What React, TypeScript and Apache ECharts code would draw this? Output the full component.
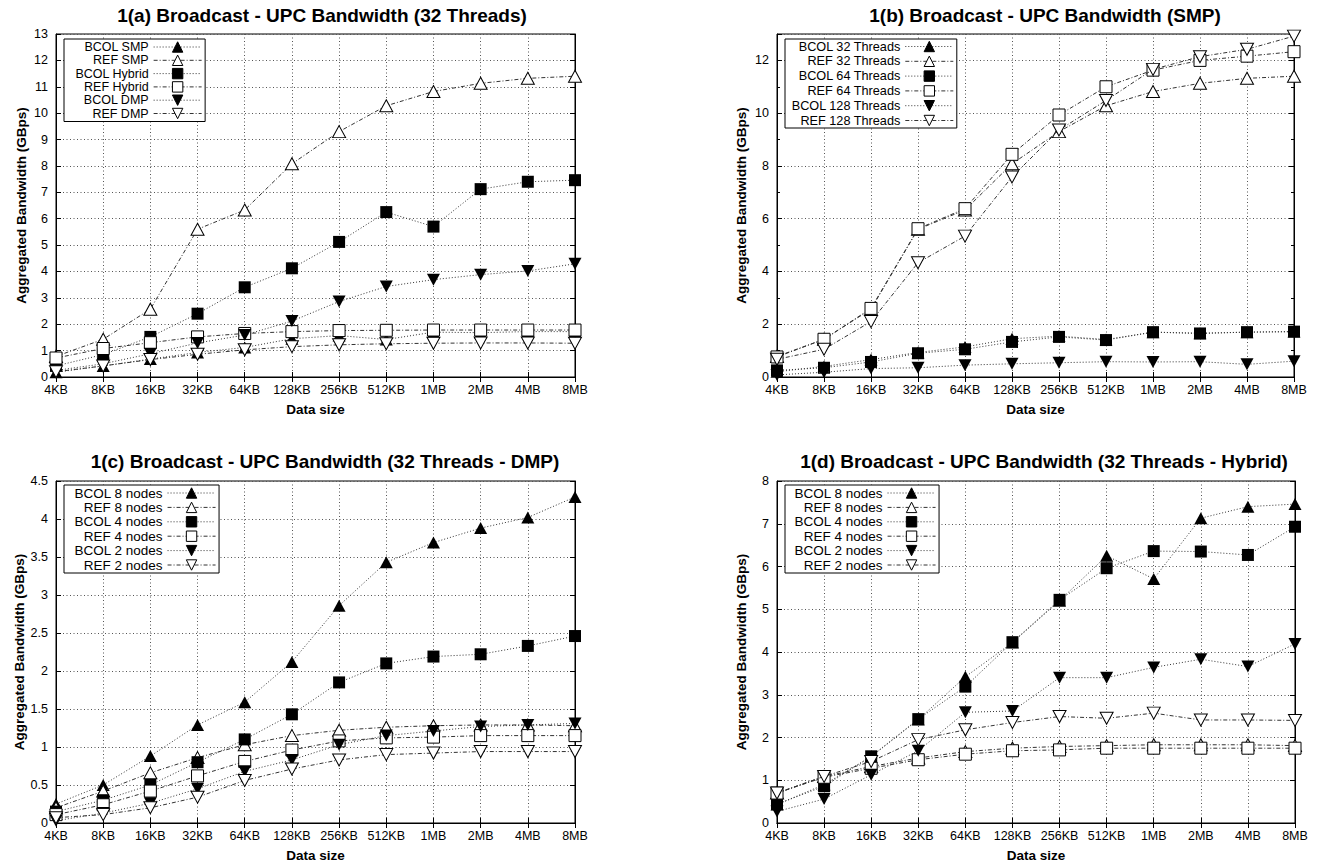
import React, { useEffect, useRef } from "react";
import * as echarts from "echarts";

const categories = ["4KB", "8KB", "16KB", "32KB", "64KB", "128KB", "256KB", "512KB", "1MB", "2MB", "4MB", "8MB"];

// Panel (a) 32 Threads
const bcolSmp = [0.18, 0.42, 0.68, 0.93, 1.12, 1.45, 1.57, 1.42, 1.7, 1.68, 1.72, 1.72];
const refSmp = [0.78, 1.43, 2.57, 5.6, 6.33, 8.08, 9.3, 10.28, 10.82, 11.13, 11.32, 11.4];
const bcolHybrid = [0.42, 0.85, 1.52, 2.4, 3.4, 4.12, 5.12, 6.25, 5.7, 7.12, 7.4, 7.46];
const refHybrid = [0.72, 1.08, 1.3, 1.52, 1.65, 1.72, 1.76, 1.77, 1.78, 1.78, 1.78, 1.78];
const bcolDmp = [0.25, 0.5, 0.88, 1.29, 1.59, 2.12, 2.86, 3.43, 3.69, 3.88, 4.02, 4.29];
const refDmp = [0.2, 0.42, 0.66, 0.86, 1.03, 1.15, 1.22, 1.26, 1.28, 1.29, 1.29, 1.28];

// Panel (b) SMP
const bcol32Threads = [0.2, 0.4, 0.66, 0.93, 1.14, 1.45, 1.55, 1.42, 1.7, 1.66, 1.7, 1.72];
const ref32Threads = [0.78, 1.43, 2.57, 5.6, 6.33, 8.08, 9.3, 10.28, 10.82, 11.13, 11.32, 11.4];
const bcol64Threads = [0.25, 0.35, 0.57, 0.9, 1.05, 1.33, 1.52, 1.4, 1.7, 1.65, 1.7, 1.72];
const ref64Threads = [0.76, 1.43, 2.6, 5.62, 6.38, 8.44, 9.93, 11.0, 11.63, 12.0, 12.16, 12.33];
const bcol128Threads = [0.08, 0.18, 0.32, 0.35, 0.45, 0.5, 0.54, 0.58, 0.57, 0.58, 0.48, 0.6];
const ref128Threads = [0.67, 1.05, 2.1, 4.33, 5.34, 7.58, 9.36, 10.48, 11.66, 12.14, 12.42, 12.92];

// Panel (c) 32 Threads - DMP
const bcol8NodesDmp = [0.25, 0.5, 0.88, 1.29, 1.59, 2.12, 2.86, 3.43, 3.69, 3.88, 4.02, 4.29];
const ref8NodesDmp = [0.2, 0.42, 0.66, 0.86, 1.03, 1.15, 1.22, 1.26, 1.28, 1.29, 1.29, 1.28];
const bcol4NodesDmp = [0.15, 0.3, 0.5, 0.8, 1.1, 1.43, 1.85, 2.1, 2.19, 2.22, 2.33, 2.46];
const ref4NodesDmp = [0.11, 0.24, 0.42, 0.62, 0.81, 0.96, 1.08, 1.12, 1.13, 1.15, 1.15, 1.15];
const bcol2NodesDmp = [0.03, 0.13, 0.26, 0.45, 0.68, 0.83, 1.03, 1.15, 1.21, 1.27, 1.29, 1.31];
const ref2NodesDmp = [0.07, 0.11, 0.2, 0.34, 0.56, 0.71, 0.83, 0.9, 0.92, 0.94, 0.94, 0.94];

// Panel (d) 32 Threads - Hybrid
const bcol8NodesHyb = [0.43, 0.9, 1.55, 2.42, 3.42, 4.22, 5.2, 6.25, 5.71, 7.13, 7.4, 7.46];
const ref8NodesHyb = [0.7, 1.09, 1.32, 1.52, 1.67, 1.75, 1.79, 1.81, 1.83, 1.83, 1.83, 1.81];
const bcol4NodesHyb = [0.44, 0.86, 1.56, 2.43, 3.19, 4.23, 5.22, 5.96, 6.36, 6.35, 6.27, 6.93];
const ref4NodesHyb = [0.7, 1.07, 1.28, 1.48, 1.61, 1.69, 1.71, 1.75, 1.75, 1.75, 1.75, 1.75];
const bcol2NodesHyb = [0.27, 0.56, 1.13, 1.69, 2.59, 2.62, 3.4, 3.4, 3.64, 3.83, 3.66, 4.19];
const ref2NodesHyb = [0.7, 1.09, 1.44, 1.95, 2.18, 2.35, 2.49, 2.45, 2.57, 2.41, 2.41, 2.4];

const namesA = ["BCOL SMP", "REF SMP", "BCOL Hybrid", "REF Hybrid", "BCOL DMP", "REF DMP"];
const namesB = ["BCOL 32 Threads", "REF 32 Threads", "BCOL 64 Threads", "REF 64 Threads", "BCOL 128 Threads", "REF 128 Threads"];
const namesCD = ["BCOL 8 nodes", "REF 8 nodes", "BCOL 4 nodes", "REF 4 nodes", "BCOL 2 nodes", "REF 2 nodes"];

const titles = [
  "1(a) Broadcast - UPC Bandwidth (32 Threads)",
  "1(b) Broadcast - UPC Bandwidth (SMP)",
  "1(c) Broadcast - UPC Bandwidth (32 Threads - DMP)",
  "1(d) Broadcast - UPC Bandwidth (32 Threads - Hybrid)",
];

const FONT = "'Liberation Sans', Arial, Helvetica, sans-serif";

const MARKERS = [
  { symbol: "triangle", rotate: 0, filled: true, size: [13, 12], bcol: true },
  { symbol: "triangle", rotate: 0, filled: false, size: [13, 12], bcol: false },
  { symbol: "rect", rotate: 0, filled: true, size: [12, 12], bcol: true },
  { symbol: "rect", rotate: 0, filled: false, size: [12, 12], bcol: false },
  { symbol: "triangle", rotate: 180, filled: true, size: [13, 12], bcol: true },
  { symbol: "triangle", rotate: 180, filled: false, size: [13, 12], bcol: false },
];

const LEGEND_ITEM_H = 13;

const panels = [
  {
    grid: { left: 56, top: 34, width: 519, height: 343 },
    yMax: 13, yInterval: 1, minor: false, nameGap: 28,
    title: { x: 322, y: 15 },
    legend: { left: 64, top: 39, padding: [1.5, 3, 1.5, 11], rowH: 13.3, fontSize: 12.5 },
    names: namesA,
    data: [bcolSmp, refSmp, bcolHybrid, refHybrid, bcolDmp, refDmp],
  },
  {
    grid: { left: 777, top: 34, width: 517, height: 343 },
    yMax: 13, yInterval: 2, minor: true, nameGap: 29,
    title: { x: 1045, y: 15 },
    legend: { left: 785, top: 39, padding: [1, 3, 1, 6], rowH: 14.8, fontSize: 12.7 },
    names: namesB,
    data: [bcol32Threads, ref32Threads, bcol64Threads, ref64Threads, bcol128Threads, ref128Threads],
  },
  {
    grid: { left: 56, top: 481, width: 519, height: 342 },
    yMax: 4.5, yInterval: 0.5, minor: false, nameGap: 28,
    title: { x: 325, y: 461 },
    legend: { left: 64, top: 485, padding: [1, 3, 1, 10], rowH: 13.4, fontSize: 13.5 },
    names: namesCD,
    data: [bcol8NodesDmp, ref8NodesDmp, bcol4NodesDmp, ref4NodesDmp, bcol2NodesDmp, ref2NodesDmp],
  },
  {
    grid: { left: 777, top: 481, width: 518, height: 342 },
    yMax: 8, yInterval: 1, minor: false, nameGap: 29,
    title: { x: 1044, y: 461 },
    legend: { left: 785, top: 485, padding: [1, 3, 1, 9], rowH: 13.4, fontSize: 13.5 },
    names: namesCD,
    data: [bcol8NodesHyb, ref8NodesHyb, bcol4NodesHyb, ref4NodesHyb, bcol2NodesHyb, ref2NodesHyb],
  },
];

function buildOption() {
  const grid: any[] = [];
  const xAxis: any[] = [];
  const yAxis: any[] = [];
  const series: any[] = [];
  const legend: any[] = [];
  const graphic: any[] = [];

  panels.forEach((p, pi) => {
    grid.push({
      ...p.grid,
      show: true,
      borderColor: "#000",
      borderWidth: 1,
      backgroundColor: "transparent",
      containLabel: false,
    });
    xAxis.push({
      type: "category",
      gridIndex: pi,
      data: categories,
      boundaryGap: false,
      position: "bottom",
      axisLine: { show: true, lineStyle: { color: "#000", width: 1 } },
      axisTick: { show: true, inside: true, length: 5, lineStyle: { color: "#000" } },
      axisLabel: { interval: 0, color: "#000", fontSize: 12.5, fontFamily: FONT, margin: 6 },
      splitLine: { show: true, interval: 0, lineStyle: { color: "#555", width: 1, type: [1, 2.5] } },
      name: "Data size",
      nameLocation: "middle",
      nameGap: 25,
      nameTextStyle: { color: "#000", fontSize: 13.5, fontWeight: "bold", fontFamily: FONT },
    });
    xAxis.push({
      type: "category",
      gridIndex: pi,
      data: categories,
      boundaryGap: false,
      position: "top",
      axisLine: { show: true, lineStyle: { color: "#000", width: 1 } },
      axisTick: { show: true, inside: true, length: 5, lineStyle: { color: "#000" } },
      axisLabel: { show: false },
      splitLine: { show: false },
    });
    yAxis.push({
      type: "value",
      gridIndex: pi,
      min: 0,
      max: p.yMax,
      interval: p.yInterval,
      position: "left",
      axisLine: { show: true, lineStyle: { color: "#000", width: 1 } },
      axisTick: { show: true, inside: true, length: 5, lineStyle: { color: "#000" } },
      minorTick: { show: p.minor, splitNumber: 2, length: 3, lineStyle: { color: "#000" } },
      axisLabel: {
        color: "#000",
        fontSize: 12.5,
        fontFamily: FONT,
        margin: 8,
        showMaxLabel: p.yMax % p.yInterval === 0,
      },
      splitLine: { show: true, lineStyle: { color: "#555", width: 1, type: [1, 2.5] } },
      name: "Aggregated Bandwidth (GBps)",
      nameLocation: "middle",
      nameGap: p.nameGap,
      nameTextStyle: { color: "#000", fontSize: 13.5, fontWeight: "bold", fontFamily: FONT },
    });
    yAxis.push({
      type: "value",
      gridIndex: pi,
      min: 0,
      max: p.yMax,
      interval: p.yInterval,
      position: "right",
      axisLine: { show: true, lineStyle: { color: "#000", width: 1 } },
      axisTick: { show: true, inside: true, length: 5, lineStyle: { color: "#000" } },
      minorTick: { show: p.minor, splitNumber: 2, length: 3, lineStyle: { color: "#000" } },
      axisLabel: { show: false },
      splitLine: { show: false },
    });

    p.names.forEach((name, si) => {
      const m = MARKERS[si];
      series.push({
        type: "line",
        name,
        xAxisIndex: pi * 2,
        yAxisIndex: pi * 2,
        data: p.data[si],
        symbol: m.symbol,
        symbolSize: m.size,
        symbolRotate: m.rotate,
        showAllSymbol: true,
        lineStyle: { color: "#333", width: 1, type: m.bcol ? [1, 2] : [4, 2, 1, 2] },
        itemStyle: {
          color: m.filled ? "#000" : "#fff",
          borderColor: "#000",
          borderWidth: m.filled ? 0 : 1,
        },
        emphasis: { disabled: true },
        z: 3 + si,
      });
    });

    legend.push({
      orient: "vertical",
      left: p.legend.left,
      top: p.legend.top,
      align: "right",
      itemWidth: 48,
      itemHeight: LEGEND_ITEM_H,
      itemGap: p.legend.rowH - LEGEND_ITEM_H,
      padding: p.legend.padding,
      backgroundColor: "#fff",
      borderColor: "#000",
      borderWidth: 1,
      borderRadius: 0,
      selectedMode: false,
      data: p.names,
      itemStyle: { borderWidth: 1 },
      lineStyle: { width: 1 },
      textStyle: { color: "#000", fontSize: p.legend.fontSize, fontFamily: FONT, lineHeight: LEGEND_ITEM_H },
      z: 10,
    });

    graphic.push({
      type: "text",
      x: p.title.x,
      y: p.title.y,
      style: {
        text: titles[pi],
        fill: "#000",
        font: `bold 19px ${FONT}`,
        align: "center",
        verticalAlign: "middle",
      },
    });
  });

  return {
    animation: false,
    backgroundColor: "#fff",
    textStyle: { fontFamily: FONT },
    grid,
    xAxis,
    yAxis,
    series,
    legend,
    graphic,
  };
}

export default function App() {
  const ref = useRef<HTMLDivElement>(null);
  useEffect(() => {
    if (!ref.current) return;
    const chart = echarts.init(ref.current, undefined, { renderer: "svg" });
    chart.setOption(buildOption() as any);
    return () => chart.dispose();
  }, []);
  return (
    <div
      ref={ref}
      style={{ position: "absolute", left: 0, top: 0, width: 1317, height: 863, background: "#fff" }}
    />
  );
}
